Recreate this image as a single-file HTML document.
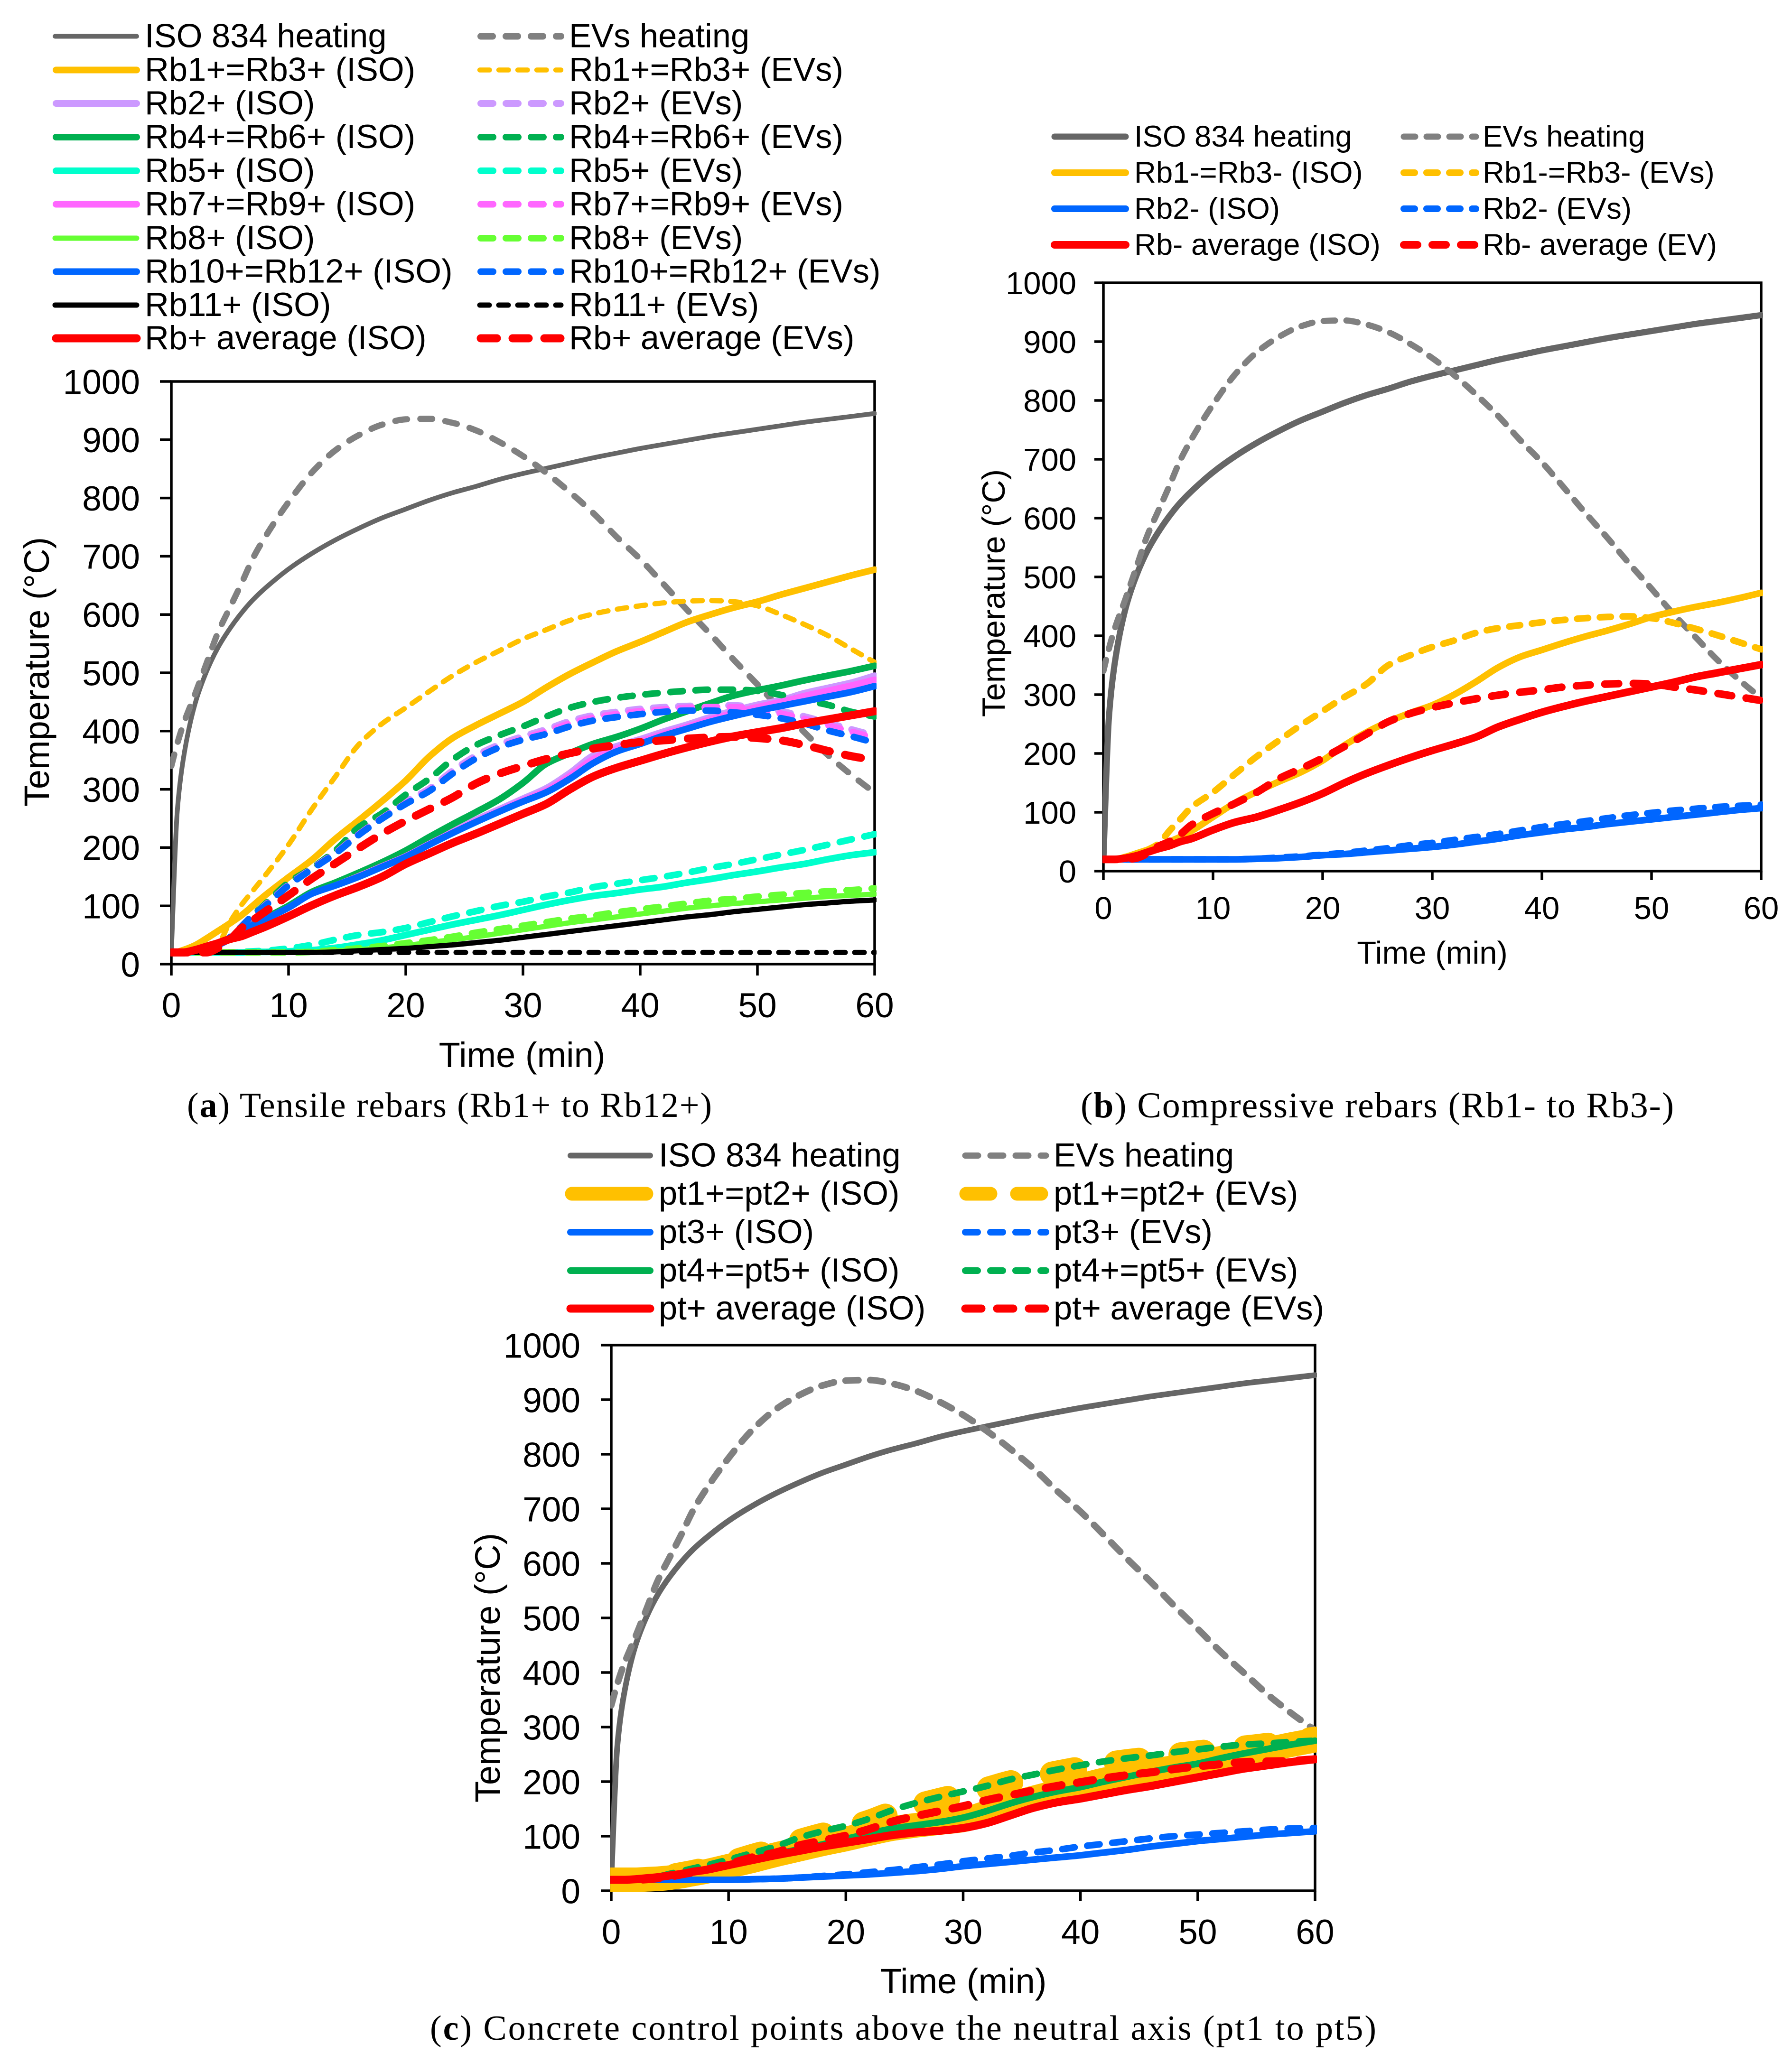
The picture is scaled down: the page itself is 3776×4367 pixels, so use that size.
<!DOCTYPE html>
<html lang="en">
<head>
<meta charset="utf-8">
<title>Temperature versus time for rebars and concrete control points</title>
<style>
html,body{margin:0;padding:0;background:#fff;}
svg{display:block;}
text{font-family:"Liberation Sans",Arial,sans-serif;fill:#000;}
.cap{font-family:"Liberation Serif","Times New Roman",serif;font-size:74px;}
.la text{font-size:70.5px;}
.ca text{font-size:70.5px;}
.lb text{font-size:63.5px;}
line{stroke-linecap:round;}
</style>
</head>
<body>
<svg id="figure" xmlns="http://www.w3.org/2000/svg" width="3776" height="4367" viewBox="0 0 3776 4367">
<rect width="3776" height="4367" fill="#fff"/>

<!-- Chart A legend -->
<g class="la">
<g><line x1="116" y1="76.5" x2="288" y2="76.5" stroke="#666666" stroke-width="10"/><text x="305" y="99.5">ISO 834 heating</text></g>
<g><line x1="1013" y1="76.5" x2="1182" y2="76.5" stroke="#808080" stroke-width="14" stroke-dasharray="25 28"/><text x="1199" y="99.5">EVs heating</text></g>
<g><line x1="118" y1="147.5" x2="288" y2="147.5" stroke="#FFC000" stroke-width="14"/><text x="305" y="170.5">Rb1+=Rb3+ (ISO)</text></g>
<g><line x1="1011" y1="147.5" x2="1182" y2="147.5" stroke="#FFC000" stroke-width="10.5" stroke-dasharray="20.5 19.5"/><text x="1199" y="170.5">Rb1+=Rb3+ (EVs)</text></g>
<g><line x1="118" y1="218" x2="288" y2="218" stroke="#CC99FF" stroke-width="14"/><text x="305" y="241">Rb2+ (ISO)</text></g>
<g><line x1="1013" y1="218" x2="1182" y2="218" stroke="#CC99FF" stroke-width="14" stroke-dasharray="26 27"/><text x="1199" y="241">Rb2+ (EVs)</text></g>
<g><line x1="118" y1="289" x2="288" y2="289" stroke="#00B050" stroke-width="14"/><text x="305" y="312">Rb4+=Rb6+ (ISO)</text></g>
<g><line x1="1013" y1="289" x2="1182" y2="289" stroke="#00B050" stroke-width="14" stroke-dasharray="26 27"/><text x="1199" y="312">Rb4+=Rb6+ (EVs)</text></g>
<g><line x1="118" y1="360" x2="288" y2="360" stroke="#00FFCC" stroke-width="14"/><text x="305" y="383">Rb5+ (ISO)</text></g>
<g><line x1="1013" y1="360" x2="1182" y2="360" stroke="#00FFCC" stroke-width="14" stroke-dasharray="26 27"/><text x="1199" y="383">Rb5+ (EVs)</text></g>
<g><line x1="118" y1="430.5" x2="288" y2="430.5" stroke="#FF66FF" stroke-width="14"/><text x="305" y="453.5">Rb7+=Rb9+ (ISO)</text></g>
<g><line x1="1013" y1="430.5" x2="1182" y2="430.5" stroke="#FF66FF" stroke-width="14" stroke-dasharray="26 27"/><text x="1199" y="453.5">Rb7+=Rb9+ (EVs)</text></g>
<g><line x1="116" y1="502" x2="288" y2="502" stroke="#66FF33" stroke-width="11"/><text x="305" y="525">Rb8+ (ISO)</text></g>
<g><line x1="1013" y1="502" x2="1182" y2="502" stroke="#66FF33" stroke-width="14" stroke-dasharray="26 27"/><text x="1199" y="525">Rb8+ (EVs)</text></g>
<g><line x1="118" y1="572.5" x2="288" y2="572.5" stroke="#0066FF" stroke-width="14"/><text x="305" y="595.5">Rb10+=Rb12+ (ISO)</text></g>
<g><line x1="1013" y1="572.5" x2="1182" y2="572.5" stroke="#0066FF" stroke-width="14" stroke-dasharray="26 27"/><text x="1199" y="595.5">Rb10+=Rb12+ (EVs)</text></g>
<g><line x1="116" y1="643" x2="288" y2="643" stroke="#000000" stroke-width="11"/><text x="305" y="666">Rb11+ (ISO)</text></g>
<g><line x1="1011" y1="643" x2="1182" y2="643" stroke="#000000" stroke-width="11" stroke-dasharray="20 20"/><text x="1199" y="666">Rb11+ (EVs)</text></g>
<g><line x1="118" y1="713" x2="288" y2="713" stroke="#FF0000" stroke-width="17"/><text x="305" y="736">Rb+ average (ISO)</text></g>
<g><line x1="1013" y1="713" x2="1182" y2="713" stroke="#FF0000" stroke-width="17" stroke-dasharray="34 33"/><text x="1199" y="736">Rb+ average (EVs)</text></g>
</g>

<!-- Chart B legend -->
<g class="lb">
<g><line x1="2222" y1="288" x2="2372" y2="288" stroke="#666666" stroke-width="13"/><text x="2390" y="309">ISO 834 heating</text></g>
<g><line x1="2958" y1="288" x2="3110" y2="288" stroke="#808080" stroke-width="13" stroke-dasharray="24 24"/><text x="3124" y="309">EVs heating</text></g>
<g><line x1="2222" y1="364" x2="2372" y2="364" stroke="#FFC000" stroke-width="14"/><text x="2390" y="385">Rb1-=Rb3- (ISO)</text></g>
<g><line x1="2958" y1="364" x2="3110" y2="364" stroke="#FFC000" stroke-width="14" stroke-dasharray="23 25"/><text x="3124" y="385">Rb1-=Rb3- (EVs)</text></g>
<g><line x1="2222" y1="440" x2="2372" y2="440" stroke="#0066FF" stroke-width="14"/><text x="2390" y="461">Rb2- (ISO)</text></g>
<g><line x1="2958" y1="440" x2="3110" y2="440" stroke="#0066FF" stroke-width="14" stroke-dasharray="23 25"/><text x="3124" y="461">Rb2- (EVs)</text></g>
<g><line x1="2222" y1="516" x2="2372" y2="516" stroke="#FF0000" stroke-width="16"/><text x="2390" y="537">Rb- average (ISO)</text></g>
<g><line x1="2958" y1="516" x2="3110" y2="516" stroke="#FF0000" stroke-width="16" stroke-dasharray="29 31"/><text x="3124" y="537">Rb- average (EV)</text></g>
</g>

<!-- Chart C legend -->
<g class="ca">
<g><line x1="1202" y1="2435.5" x2="1370" y2="2435.5" stroke="#666666" stroke-width="12"/><text x="1388" y="2458.5">ISO 834 heating</text></g>
<g><line x1="2034" y1="2435.5" x2="2204" y2="2435.5" stroke="#808080" stroke-width="13" stroke-dasharray="27 26"/><text x="2220" y="2458.5">EVs heating</text></g>
<g><line x1="1205" y1="2516" x2="1362" y2="2516" stroke="#FFC000" stroke-width="29"/><text x="1388" y="2539">pt1+=pt2+ (ISO)</text></g>
<g><line x1="2036" y1="2516" x2="2194" y2="2516" stroke="#FFC000" stroke-width="29" stroke-dasharray="51 56"/><text x="2220" y="2539">pt1+=pt2+ (EVs)</text></g>
<g><line x1="1202" y1="2597" x2="1370" y2="2597" stroke="#0066FF" stroke-width="14"/><text x="1388" y="2620">pt3+ (ISO)</text></g>
<g><line x1="2034" y1="2597" x2="2204" y2="2597" stroke="#0066FF" stroke-width="14" stroke-dasharray="26 27"/><text x="2220" y="2620">pt3+ (EVs)</text></g>
<g><line x1="1202" y1="2678" x2="1370" y2="2678" stroke="#00B050" stroke-width="14"/><text x="1388" y="2701">pt4+=pt5+ (ISO)</text></g>
<g><line x1="2034" y1="2678" x2="2204" y2="2678" stroke="#00B050" stroke-width="14" stroke-dasharray="26 27"/><text x="2220" y="2701">pt4+=pt5+ (EVs)</text></g>
<g><line x1="1202" y1="2758" x2="1370" y2="2758" stroke="#FF0000" stroke-width="17"/><text x="1388" y="2781">pt+ average (ISO)</text></g>
<g><line x1="2034" y1="2758" x2="2204" y2="2758" stroke="#FF0000" stroke-width="17" stroke-dasharray="34 33"/><text x="2220" y="2781">pt+ average (EVs)</text></g>
</g>

<!-- Axis titles -->
<text x="1100" y="2249" font-size="74" text-anchor="middle">Time (min)</text>
<text transform="translate(103,1416) rotate(-90)" font-size="74" text-anchor="middle">Temperature (°C)</text>
<text x="3018" y="2031" font-size="67" text-anchor="middle">Time (min)</text>
<text transform="translate(2117,1250) rotate(-90)" font-size="68" text-anchor="middle">Temperature (°C)</text>
<text x="2030" y="4201" font-size="74" text-anchor="middle">Time (min)</text>
<text transform="translate(1053,3515) rotate(-90)" font-size="74" text-anchor="middle">Temperature (°C)</text>

<!-- Captions -->
<text class="cap" x="394" y="2354" textLength="1106">(<tspan font-weight="bold">a</tspan>) Tensile rebars (Rb1+ to Rb12+)</text>
<text class="cap" x="2277" y="2355" textLength="1250" style="font-size:76px">(<tspan font-weight="bold">b</tspan>) Compressive rebars (Rb1- to Rb3-)</text>
<text class="cap" x="906" y="4299" textLength="1994">(<tspan font-weight="bold">c</tspan>) Concrete control points above the neutral axis (pt1 to pt5)</text>
</svg>

<script>
// Shared axis data
const timeMinutes = [0,0.5,1,2,3,4,5,6,7,8,10,12,14,16,18,20,22,24,26,28,30,32,34,36,38,40,42,44,46,48,50,52,54,56,58,60];
const xTickLabels = [0,10,20,30,40,50,60];
const yTickLabels = [0,100,200,300,400,500,600,700,800,900,1000];

// Heating curves (all charts)
const isoHeating = [20,261,349,445,502,544,576,603,626,645,678,705,728,748,766,781,796,809,820,832,842,851,860,869,877,885,892,899,906,912,918,924,930,935,940,945];
const evsHeating = [340,378,410,462,516,570,612,654,698,733,793,844,882,908,926,935,936,929,916,896,872,843,810,774,733,695,652,608,566,522,480,437,398,359,325,294];

// Chart A: tensile rebars
const rb1Iso = [20,21,24,32,44,57,70,84,101,118,149,179,215,247,280,315,356,388,410,430,450,475,498,518,537,553,570,587,600,612,622,634,645,656,667,677];
const rb1Evs = [20,20,20,20,24,35,72,102,127,152,205,266,322,377,413,440,468,495,518,538,558,574,590,601,609,615,620,623,624,622,615,600,583,564,541,518];
const rb2Iso = [20,20,20,22,26,33,44,57,68,78,98,122,136,152,170,187,208,229,248,266,284,302,328,358,374,386,399,411,424,435,445,453,465,474,483,495];
const rb2Evs = [20,20,20,22,26,33,46,65,84,101,137,165,193,225,254,279,301,332,358,377,391,403,417,427,433,438,441,443,444,444,440,434,425,414,403,392];
const rb4Iso = [20,20,20,22,27,35,44,58,69,79,100,124,140,157,175,195,218,240,261,283,311,344,362,378,390,404,420,434,448,461,470,478,487,495,503,512];
const rb4Evs = [20,20,20,22,26,33,46,65,85,103,140,165,195,235,259,291,318,351,376,393,408,425,440,450,457,462,466,469,471,471,469,462,453,445,433,425];
const rb5Iso = [20,20,20,20,20,20,20,20,21,21,22,24,28,34,41,50,59,68,76,84,93,102,110,117,122,128,133,140,146,153,159,166,172,180,187,192];
const rb5Evs = [20,20,20,20,20,20,20,21,22,23,27,33,42,50,55,62,72,82,91,100,107,116,123,132,138,144,150,157,165,172,180,188,196,205,214,223];
const rb7Iso = [20,20,20,22,26,33,43,57,68,77,97,121,135,151,168,185,206,226,245,263,281,298,323,352,370,382,395,407,420,431,441,450,460,469,478,488];
const rb7Evs = [20,20,20,22,26,33,46,65,84,101,136,164,191,223,251,276,298,328,354,373,387,399,413,423,429,434,437,440,441,441,437,430,421,410,399,388];
const rb8Iso = [20,20,20,20,20,20,20,20,20,20,20,21,23,25,28,32,37,42,47,53,59,65,71,76,81,86,91,96,100,104,107,110,113,116,118,120];
const rb8Evs = [20,20,20,20,20,20,20,20,20,20,20,21,24,27,31,36,41,47,54,60,66,72,78,83,89,94,99,104,109,112,116,119,122,125,127,130];
const rb10Iso = [20,20,20,22,26,33,43,57,68,77,97,121,135,150,167,184,205,225,244,262,279,295,318,345,365,378,392,404,416,426,435,443,451,459,467,477];
const rb10Evs = [20,20,20,22,26,33,46,65,85,100,135,163,190,222,250,275,297,327,353,372,385,395,408,418,424,429,433,435,435,432,428,422,413,401,391,380];
const rb11Iso = [20,20,20,20,20,20,20,20,20,20,20,20,21,23,25,27,30,33,37,41,46,51,56,61,66,71,76,81,85,90,94,98,102,105,108,110];
const rb11Evs = [20,20,20,20,20,20,20,20,20,20,20,20,20,20,20,20,20,20,20,20,20,20,20,20,20,20,20,20,20,20,20,20,20,20,20,20];
const rbPlusAvgIso = [20,20,20,24,30,36,43,48,56,64,82,101,118,133,150,172,190,208,224,241,258,275,300,322,337,349,361,372,382,391,398,405,413,420,427,434];
const rbPlusAvgEvs = [20,20,20,20,20,28,42,62,76,90,118,147,173,199,224,246,266,286,310,327,340,352,362,370,376,381,384,387,389,390,388,384,376,366,357,350];

// Chart B: compressive rebars
const rb1MinusIso = [20,20,20,24,30,36,42,50,58,68,92,116,135,152,168,188,214,236,254,269,282,300,322,346,364,376,388,399,409,420,432,441,449,456,464,473];
const rb1MinusEvs = [20,20,20,22,28,36,46,68,88,108,134,165,195,222,248,272,296,318,350,367,381,392,405,413,418,423,427,430,432,433,430,422,412,401,389,377];
const rb2MinusIso = [20,20,20,20,20,20,20,20,20,20,20,20,21,22,24,27,29,32,35,38,41,45,50,55,61,66,71,75,80,84,88,92,96,100,104,107];
const rb2MinusEvs = [20,20,20,20,20,20,20,20,20,20,20,20,21,23,25,28,31,35,39,44,48,53,58,63,69,75,80,85,90,95,99,103,106,109,111,113];
const rbMinusAvgIso = [20,20,20,22,26,32,38,43,50,55,70,83,92,104,117,132,150,166,180,193,205,216,228,245,258,270,280,289,297,305,313,321,330,337,344,351];
const rbMinusAvgEvs = [20,20,20,20,22,30,42,50,62,78,98,115,134,157,174,192,212,233,254,268,278,286,293,299,304,308,313,316,318,319,318,313,308,302,296,290];

// Chart C: concrete control points
const pt1Iso = [20,20,20,20,21,22,24,27,31,35,45,55,66,76,86,95,105,114,120,125,130,143,158,170,181,192,203,211,219,226,234,243,251,259,268,276];
const pt1Evs = [20,20,20,20,21,23,26,30,34,39,50,63,75,90,102,113,126,142,155,166,176,186,198,207,216,224,231,237,242,248,253,258,262,267,273,278];
const pt3Iso = [20,20,20,20,20,20,20,20,20,20,20,21,22,24,26,28,30,33,36,40,45,49,53,57,61,65,70,75,81,86,91,95,99,103,106,109];
const pt3Evs = [20,20,20,20,20,20,20,20,20,20,20,21,22,24,27,30,34,38,43,48,54,59,64,70,75,81,86,91,96,100,103,106,109,112,114,115];
const pt4Iso = [20,20,20,21,23,25,28,31,35,38,48,58,67,76,85,95,105,114,120,126,134,146,160,172,182,190,200,209,218,226,233,243,252,260,268,275];
const pt4Evs = [20,20,20,21,23,26,31,36,41,46,57,69,81,97,109,119,132,148,161,172,182,192,204,213,222,230,237,243,248,254,259,264,268,270,273,275];
const ptAvgIso = [20,20,20,21,23,25,28,31,35,38,47,56,65,73,81,88,95,102,107,110,115,124,138,152,162,169,177,185,192,200,208,216,224,230,236,241];
const ptAvgEvs = [20,20,20,20,21,23,26,30,34,38,49,61,70,83,92,101,113,127,137,146,155,166,175,184,192,199,206,212,217,223,228,232,236,237,238,241];

// Series wiring (references to data arrays + styling)
const seriesA = [
  {id:'iso-834-heating', v:isoHeating, c:'#666666', w:10},
  {id:'evs-heating', v:evsHeating, c:'#808080', w:13, d:'25 28'},
  {id:'rb1-iso', v:rb1Iso, c:'#FFC000', w:14},
  {id:'rb1-evs', v:rb1Evs, c:'#FFC000', w:11, d:'20 20'},
  {id:'rb2-iso', v:rb2Iso, c:'#CC99FF', w:14},
  {id:'rb2-evs', v:rb2Evs, c:'#CC99FF', w:14, d:'26 27'},
  {id:'rb4-iso', v:rb4Iso, c:'#00B050', w:14},
  {id:'rb4-evs', v:rb4Evs, c:'#00B050', w:14, d:'26 27'},
  {id:'rb5-iso', v:rb5Iso, c:'#00FFCC', w:14},
  {id:'rb5-evs', v:rb5Evs, c:'#00FFCC', w:14, d:'26 27'},
  {id:'rb7-iso', v:rb7Iso, c:'#FF66FF', w:14},
  {id:'rb7-evs', v:rb7Evs, c:'#FF66FF', w:14, d:'26 27'},
  {id:'rb8-iso', v:rb8Iso, c:'#66FF33', w:11},
  {id:'rb8-evs', v:rb8Evs, c:'#66FF33', w:14, d:'26 27'},
  {id:'rb10-iso', v:rb10Iso, c:'#0066FF', w:14},
  {id:'rb10-evs', v:rb10Evs, c:'#0066FF', w:14, d:'26 27'},
  {id:'rb11-iso', v:rb11Iso, c:'#000000', w:11},
  {id:'rb11-evs', v:rb11Evs, c:'#000000', w:11, d:'20 20'},
  {id:'rb-average-iso', v:rbPlusAvgIso, c:'#FF0000', w:17},
  {id:'rb-average-evs', v:rbPlusAvgEvs, c:'#FF0000', w:17, d:'34 33'}
];
const seriesB = [
  {id:'iso-834-heating', v:isoHeating, c:'#666666', w:13},
  {id:'evs-heating', v:evsHeating, c:'#808080', w:13, d:'24 24'},
  {id:'rb1-minus-iso', v:rb1MinusIso, c:'#FFC000', w:14},
  {id:'rb1-minus-evs', v:rb1MinusEvs, c:'#FFC000', w:14, d:'23 25'},
  {id:'rb2-minus-iso', v:rb2MinusIso, c:'#0066FF', w:14},
  {id:'rb2-minus-evs', v:rb2MinusEvs, c:'#0066FF', w:14, d:'23 25'},
  {id:'rb-minus-average-iso', v:rbMinusAvgIso, c:'#FF0000', w:16},
  {id:'rb-minus-average-ev', v:rbMinusAvgEvs, c:'#FF0000', w:16, d:'29 31'}
];
const seriesC = [
  {id:'iso-834-heating', v:isoHeating, c:'#666666', w:12},
  {id:'evs-heating', v:evsHeating, c:'#808080', w:14, d:'27 25'},
  {id:'pt1-iso', v:pt1Iso, c:'#FFC000', w:52},
  {id:'pt1-evs', v:pt1Evs, c:'#FFC000', w:52, d:'48 89'},
  {id:'pt3-iso', v:pt3Iso, c:'#0066FF', w:14},
  {id:'pt3-evs', v:pt3Evs, c:'#0066FF', w:14, d:'26 27'},
  {id:'pt4-iso', v:pt4Iso, c:'#00B050', w:14},
  {id:'pt4-evs', v:pt4Evs, c:'#00B050', w:14, d:'26 27'},
  {id:'pt-average-iso', v:ptAvgIso, c:'#FF0000', w:17},
  {id:'pt-average-evs', v:ptAvgEvs, c:'#FF0000', w:17, d:'34 33'}
];

const NS = 'http://www.w3.org/2000/svg';
const figure = document.getElementById('figure');

function node(tag, parent, attrs) {
  const el = document.createElementNS(NS, tag);
  for (const k in attrs) el.setAttribute(k, attrs[k]);
  parent.appendChild(el);
  return el;
}

// Monotone cubic interpolation through the plotted points (Excel-style smooth line)
function smoothPath(xs, ys) {
  const n = xs.length;
  const h = [], s = [], m = [];
  for (let i = 0; i < n - 1; i++) {
    h[i] = xs[i + 1] - xs[i];
    s[i] = (ys[i + 1] - ys[i]) / h[i];
  }
  m[0] = s[0];
  m[n - 1] = s[n - 2];
  for (let i = 1; i < n - 1; i++) {
    if (s[i - 1] * s[i] <= 0) {
      m[i] = 0;
    } else {
      m[i] = 3 * (h[i - 1] + h[i]) / ((2 * h[i] + h[i - 1]) / s[i - 1] + (h[i] + 2 * h[i - 1]) / s[i]);
    }
  }
  let d = 'M' + xs[0].toFixed(1) + ' ' + ys[0].toFixed(1);
  for (let i = 0; i < n - 1; i++) {
    const third = h[i] / 3;
    d += 'C' + (xs[i] + third).toFixed(1) + ' ' + (ys[i] + m[i] * third).toFixed(1) + ' ' +
      (xs[i + 1] - third).toFixed(1) + ' ' + (ys[i + 1] - m[i + 1] * third).toFixed(1) + ' ' +
      xs[i + 1].toFixed(1) + ' ' + ys[i + 1].toFixed(1);
  }
  return d;
}

function drawChart(key, box, series) {
  const xScale = t => box.x0 + (t / 60) * (box.x1 - box.x0);
  const yScale = v => box.y0 - (v / 1000) * (box.y0 - box.y1);

  const chart = node('g', figure, {});
  
  

  const clip = node('clipPath', chart, {id: 'clip-' + key});
  node('rect', clip, {x: box.x0 - 2, y: box.y1, width: box.x1 - box.x0 + 6, height: box.y0 - box.y1 + 5});

  const axes = node('g', chart, {stroke: '#000', 'stroke-width': 5.5, fill: 'none'});
  
  
  node('rect', axes, {x: box.x0, y: box.y1, width: box.x1 - box.x0, height: box.y0 - box.y1});

  yTickLabels.forEach(v => {
    const tick = node('path', axes, {d: 'M' + (box.x0 - box.tick) + ' ' + yScale(v) + 'H' + box.x0});
    
    
    const label = node('text', chart, {x: box.yLabelX, y: yScale(v) + box.font * 0.36, 'font-size': box.font, 'text-anchor': 'end'});
    
    
    label.textContent = v;
  });

  xTickLabels.forEach(t => {
    const tick = node('path', axes, {d: 'M' + xScale(t) + ' ' + box.y0 + 'V' + (box.y0 + box.tick)});
    
    
    const label = node('text', chart, {x: xScale(t), y: box.xLabelY, 'font-size': box.font, 'text-anchor': 'middle'});
    
    
    label.textContent = t;
  });

  const lines = node('g', chart, {'clip-path': 'url(#clip-' + key + ')', fill: 'none', 'stroke-linejoin': 'round', 'stroke-linecap': 'round'});
  
  
  series.forEach(s => {
    const d = smoothPath(timeMinutes.map(xScale), s.v.map(yScale));
    const path = node('path', lines, {d: d, stroke: s.c, 'stroke-width': s.w});
    if (s.d) path.setAttribute('stroke-dasharray', s.d);
    
    
  });
}

drawChart('a', {x0: 361, x1: 1843, y0: 2032, y1: 804, tick: 24, font: 73, yLabelX: 295, xLabelY: 2144}, seriesA);
drawChart('b', {x0: 2325, x1: 3711, y0: 1836, y1: 596, tick: 19, font: 67, yLabelX: 2268, xLabelY: 1937}, seriesB);
drawChart('c', {x0: 1288, x1: 2771, y0: 3985, y1: 2835, tick: 22, font: 73, yLabelX: 1223, xLabelY: 4097}, seriesC);
</script>
</body>
</html>
